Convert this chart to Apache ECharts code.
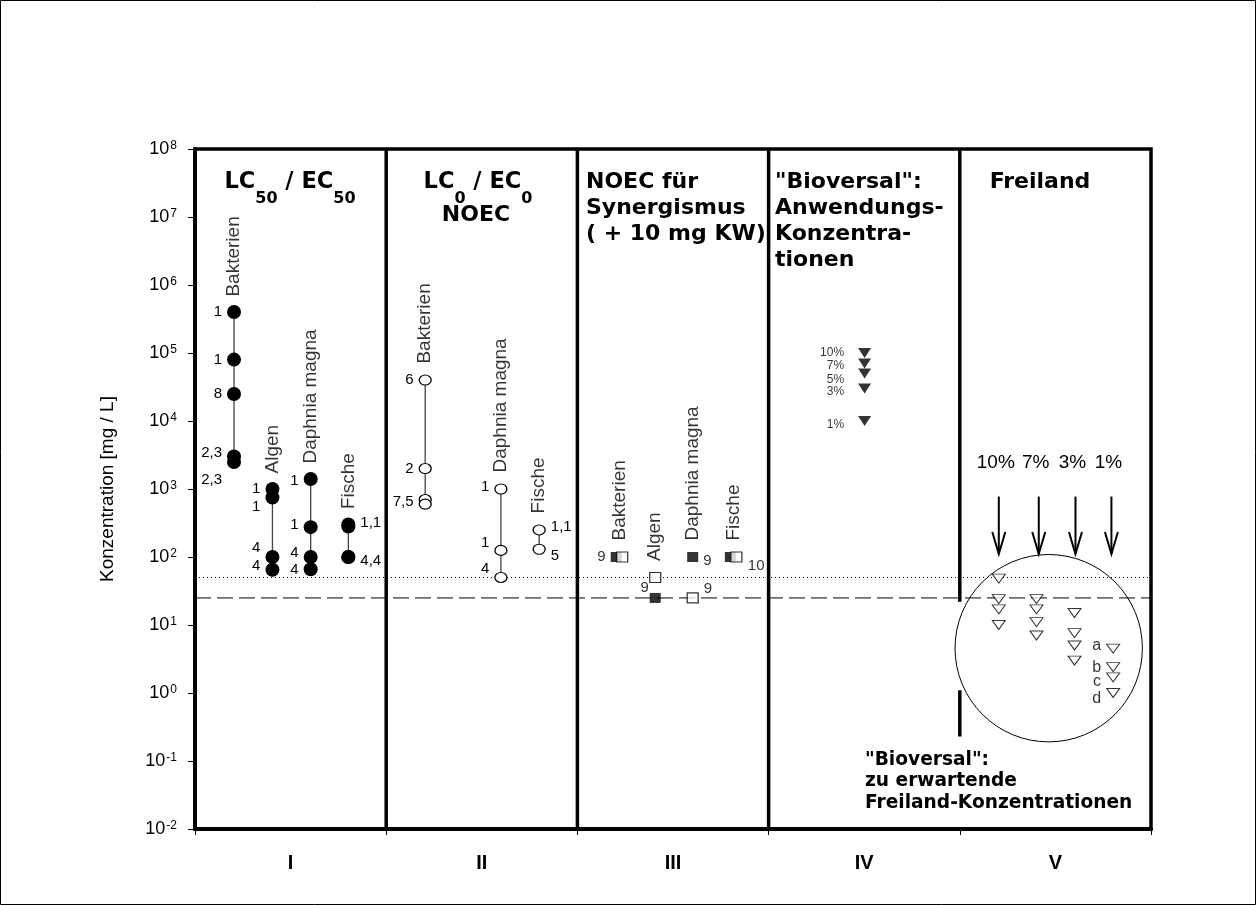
<!DOCTYPE html>
<html><head><meta charset="utf-8">
<script src="https://cdn.jsdelivr.net/npm/echarts@6/dist/echarts.min.js"></script>
<style>html,body{margin:0;padding:0;background:#fff}#c{width:1256px;height:905px}</style>
</head><body><div id="c"></div>
<script>
// ---------------- DATA ----------------
const columnLabels = ['I', 'II', 'III', 'IV', 'V'];
const yTickValues = [1e-2, 1e-1, 1, 10, 100, 1e3, 1e4, 1e5, 1e6, 1e7, 1e8];

// I: LC50 / EC50 (filled circles)
const lc50Species = ['Bakterien', 'Algen', 'Daphnia magna', 'Fische'];
const lc50X = [0.204, 0.405, 0.605, 0.802];
const lc50Values = [[4e5, 8e4, 2.5e4, 3000, 2500], [1000, 750, 100, 65], [1400, 275, 100, 66], [300, 280, 100, 100]];
const lc50Refs = [['1', '1', '8', '2,3', '2,3'], ['1', '1', '4', '4'], ['1', '1', '4', '4'], ['1,1', '', '4,4', '']];

// II: LC0 / EC0 / NOEC (open circles)
const noecSpecies = ['Bakterien', 'Daphnia magna', 'Fische'];
const noecX = [1.204, 1.60, 1.80];
const noecValues = [[40000, 2000, 700, 600], [1000, 125, 50], [250, 130]];
const noecRefs = [['6', '2', '', '7,5'], ['1', '1', '4'], ['1,1', '5']];

// III: NOEC für Synergismus (+10 mg KW) (squares)
const synSpecies = ['Bakterien', 'Algen', 'Daphnia magna', 'Fische'];
const synX = [2.203, 2.407, 2.603, 2.800];
const synFilled = [100, 25, 100, 100];
const synOpen = [100, 50, 25, 100];
const synFilledRefs = ['9', '9', '9', '10'];
const synOpenRefs = ['', '', '9', ''];

// IV: "Bioversal" Anwendungs-Konzentrationen (filled triangles)
const appLabels = ['10%', '7%', '5%', '3%', '1%'];
const appValues = [1e5, 7e4, 5e4, 3e4, 1e4];
const appX = 3.502;

// V: Freiland (open triangles)
const fieldGroups = ['10%', '7%', '3%', '1%'];
const fieldX = [4.204, 4.401, 4.600, 4.802];
const fieldValues = [[48, 24, 17, 10], [24, 17, 11, 7], [15, 7.6, 5, 3], [4.5, 2.4, 1.7, 1.0]];
const fieldLetters = ['a', 'b', 'c', 'd'];
const arrowX = [4.204, 4.413, 4.605, 4.793];
const arrowTop = 774;
const arrowTip = 111;
const circleCenter = [4.465, 4.56];
const circleRadiusX = 0.49;

// reference levels and column dividers
const dottedLevel = 50;
const dashedLevel = 25;
const dividerX = [1, 2, 3];
const dividerV = [4, 4];
const dividerVUpper = [1e8, 22];
const dividerVLower = [1.1, 0.23];

// ---------------- STYLE ----------------
const FONT = 'Liberation Sans, Arial, Helvetica, sans-serif';
const BOLD = 'DejaVu Sans, Verdana, sans-serif';
const lc50Side = ['left', 'left', 'left', 'right'];
const lc50Dy = [[0, 0, 0, -4, 18], [0, 9, -9, -4], [2, -2, -4, 1], [-2, 0, 4, 0]];
const noecSide = ['left', 'left', 'right'];
const noecDy = [[0, 0, 0, -2], [-2, -8, -9], [-3, 7]];
const synFilledSide = ['left', 'left', 'right', 'right'];
const synFilledOff = [[0, 0], [4, -10], [0, 4], [7, 9]];
const appDy = [0, 2, 6, 3, 4];
const fieldDy = [-3, 0, 4, 6];

const chart = echarts.init(document.getElementById('c'), null, { renderer: 'canvas' });

function lbl(text, side, off, size, dist) {
  return { show: !!text, formatter: text || ' ', position: side, distance: dist == null ? 5 : dist, offset: off,
           color: '#000', fontFamily: FONT, fontSize: size || 15 };
}

function groupSeries(x, values, refs, side, dys, filled) {
  return {
    type: 'line', xAxisIndex: 1, yAxisIndex: 0, silent: true, z: 5,
    symbol: 'circle',
    symbolSize: filled ? 14 : [12, 10],
    itemStyle: filled ? { color: '#000' } : { color: '#fff', borderColor: '#000', borderWidth: 1.2 },
    lineStyle: { color: '#444', width: 1.3 },
    data: values.map((v, i) => ({ value: [x, v], label: lbl(refs[i], side, [0, dys[i] || 0]) }))
  };
}

function nameSeries(xs, names, tops, dist) {
  return {
    type: 'scatter', xAxisIndex: 1, yAxisIndex: 0, silent: true, z: 6,
    symbolSize: 1, itemStyle: { color: 'transparent' },
    data: xs.map((x, i) => ({ value: [x, tops[i]], label: { formatter: names[i] } })),
    label: { show: true, position: 'top', distance: dist, rotate: 90, align: 'left', verticalAlign: 'middle',
             fontFamily: FONT, fontSize: 19, color: '#000' }
  };
}

function hLine(level, type) {
  return { type: 'line', xAxisIndex: 1, yAxisIndex: 0, silent: true, z: 2, symbol: 'none',
           data: [[0, level], [5, level]], lineStyle: { color: '#000', width: 1, type: type } };
}
function vLine(x, a, b) {
  return { type: 'line', xAxisIndex: 1, yAxisIndex: 0, silent: true, z: 3, symbol: 'none',
           data: [[x, a], [x, b]], lineStyle: { color: '#000', width: 3.5 } };
}

const series = [];
series.push(hLine(dottedLevel, [1, 3]));
series.push(hLine(dashedLevel, [16, 6]));
dividerX.forEach(x => series.push(vLine(x, 1e-2, 1e8)));
series.push(vLine(dividerV[0], dividerVUpper[0], dividerVUpper[1]));
series.push(vLine(dividerV[1], dividerVLower[0], dividerVLower[1]));

lc50X.forEach((x, g) => series.push(groupSeries(x, lc50Values[g], lc50Refs[g], lc50Side[g], lc50Dy[g], true)));
noecX.forEach((x, g) => series.push(groupSeries(x, noecValues[g], noecRefs[g], noecSide[g], noecDy[g], false)));

// III squares
series.push({
  type: 'scatter', xAxisIndex: 1, yAxisIndex: 0, silent: true, z: 5,
  symbol: 'rect', symbolSize: [11, 10], itemStyle: { color: '#000' },
  data: synX.map((x, i) => ({ value: [x, synFilled[i]], label: lbl(synFilledRefs[i], synFilledSide[i], synFilledOff[i]) }))
});
series.push({
  type: 'scatter', xAxisIndex: 1, yAxisIndex: 0, silent: true, z: 6,
  symbol: 'rect', symbolSize: [11, 10], itemStyle: { color: '#fff', borderColor: '#000', borderWidth: 1.2 },
  data: synX.map((x, i) => ({
    value: [x, synOpen[i]],
    symbolOffset: synOpen[i] === synFilled[i] ? [6, 0] : [0, 0],
    label: lbl(synOpenRefs[i], 'right', [0, -9])
  }))
});

// species names
series.push(nameSeries(lc50X, lc50Species, lc50Values.map(a => Math.max(...a)), 15));
series.push(nameSeries(noecX, noecSpecies, noecValues.map(a => Math.max(...a)), 16));
series.push(nameSeries(synX.map((x, i) => x + (synOpen[i] === synFilled[i] ? 0.016 : 0)), synSpecies,
  synX.map((x, i) => Math.max(synFilled[i], synOpen[i])), 16));

// IV filled triangles
series.push({
  type: 'scatter', xAxisIndex: 1, yAxisIndex: 0, silent: true, z: 5,
  symbol: 'triangle', symbolRotate: 180, symbolSize: [13, 10], itemStyle: { color: '#000' },
  data: appValues.map((v, i) => ({ value: [appX, v], label: lbl(appLabels[i], 'left', [0, appDy[i]], 12, 14) }))
});

// V open triangles
fieldX.forEach((x, g) => {
  series.push({
    type: 'scatter', xAxisIndex: 1, yAxisIndex: 0, silent: true, z: 5,
    symbol: 'triangle', symbolRotate: 180, symbolSize: [13, 9],
    itemStyle: { color: '#fff', borderColor: '#000', borderWidth: 1 },
    data: fieldValues[g].map((v, i) => ({
      value: [x, v],
      label: lbl(g === fieldX.length - 1 ? fieldLetters[i] : '', 'left', [0, fieldDy[i]], 16)
    }))
  });
});

// circle around field values
series.push({
  type: 'custom', xAxisIndex: 1, yAxisIndex: 0, silent: true, z: 4,
  data: [circleCenter],
  renderItem: (params, api) => {
    const c = api.coord([api.value(0), api.value(1)]);
    const e = api.coord([api.value(0) + circleRadiusX, api.value(1)]);
    return { type: 'circle', shape: { cx: c[0], cy: c[1], r: e[0] - c[0] },
             style: { fill: 'none', stroke: '#000', lineWidth: 1 } };
  }
});

// arrows with labels
series.push({
  type: 'custom', xAxisIndex: 1, yAxisIndex: 0, silent: true, z: 4,
  data: arrowX.map((x, i) => [x, arrowTop, arrowTip, i]),
  renderItem: (params, api) => {
    const x = api.value(0);
    const p0 = api.coord([x, api.value(1)]);
    const p1 = api.coord([x, api.value(2)]);
    const i = api.value(3);
    return { type: 'group', children: [
      { type: 'line', shape: { x1: p0[0], y1: p0[1], x2: p1[0], y2: p1[1] }, style: { stroke: '#000', lineWidth: 2 } },
      { type: 'polyline', shape: { points: [[p1[0] - 6.5, p1[1] - 22], [p1[0], p1[1]], [p1[0] + 6.5, p1[1] - 22]] },
        style: { stroke: '#000', lineWidth: 2, fill: null } },
      { type: 'text', x: p0[0] - 3, y: p0[1] - 34,
        style: { text: fieldGroups[i], textAlign: 'center', textVerticalAlign: 'middle', align: 'center', verticalAlign: 'middle',
                 font: '19px ' + FONT, fill: '#000' } }
    ] };
  }
});

const headM = { fontFamily: BOLD, fontWeight: 'bold', fontSize: 22.5, lineHeight: 26, color: '#000' };
const headS = { fontFamily: BOLD, fontWeight: 'bold', fontSize: 16, padding: [32, 0, 0, 0], color: '#000' };
const HEAD = 'bold 22px ' + BOLD;
function gtext(x, y, text, opts) {
  return { type: 'text', x: x, y: y, silent: true, style: Object.assign({ text: text, fill: '#000' }, opts) };
}
const TL = { textAlign: 'left', align: 'left', textVerticalAlign: 'top', verticalAlign: 'top' };
const TC = { textAlign: 'center', align: 'center', textVerticalAlign: 'top', verticalAlign: 'top' };
const MC = { textAlign: 'center', align: 'center', textVerticalAlign: 'middle', verticalAlign: 'middle' };

const option = {
  animation: false,
  backgroundColor: '#fff',
  grid: { left: 195, right: 105, top: 149, bottom: 76, show: true, borderColor: '#000', borderWidth: 3.5 },
  xAxis: [
    { type: 'category', data: columnLabels, boundaryGap: true, position: 'bottom',
      axisLine: { show: true, lineStyle: { color: '#000', width: 4 } },
      axisTick: { show: true, interval: 0, length: 6, lineStyle: { color: '#000', width: 1 } },
      axisLabel: { color: '#000', fontFamily: FONT, fontWeight: 'bold', fontSize: 20, margin: 24 },
      splitLine: { show: false } },
    { type: 'value', min: 0, max: 5, show: false }
  ],
  yAxis: [{
    type: 'log', logBase: 10, min: 1e-2, max: 1e8,
    name: 'Konzentration [mg / L]', nameLocation: 'middle', nameGap: 78,
    nameTextStyle: { color: '#000', fontFamily: FONT, fontSize: 19 },
    axisLine: { show: true, lineStyle: { color: '#000', width: 4 } },
    axisTick: { show: true, length: 7, lineStyle: { color: '#000', width: 1 }, customValues: yTickValues },
    axisLabel: {
      customValues: yTickValues, margin: 18,
      formatter: v => '{b|10}{s|' + Math.round(Math.log10(v)) + '}',
      rich: { b: { fontFamily: FONT, fontSize: 18, lineHeight: 20, color: '#000' },
              s: { fontFamily: FONT, fontSize: 12, verticalAlign: 'top', color: '#000', padding: [1, 0, 0, 1] } }
    },
    splitLine: { show: false }
  }],
  series: series,
  graphic: [
    { type: 'rect', silent: true, shape: { x: 0.5, y: 0.5, width: 1255, height: 904 }, style: { fill: 'none', stroke: '#000', lineWidth: 1 } },
    gtext(290, 158.5, '{m|LC}{s|50}{m| / EC}{s|50}', Object.assign({ rich: { m: headM, s: headS } }, TC)),
    gtext(478, 158.5, '{m|LC}{s|0}{m| / EC}{s|0}', Object.assign({ rich: { m: headM, s: headS } }, TC)),
    gtext(476, 215, 'NOEC', Object.assign({ font: HEAD }, MC)),
    gtext(586, 169.5, 'NOEC für\nSynergismus\n( + 10 mg KW)', Object.assign({ font: HEAD, lineHeight: 26 }, TL)),
    gtext(775, 169.5, '"Bioversal":\nAnwendungs-\nKonzentra-\ntionen', Object.assign({ font: HEAD, lineHeight: 26 }, TL)),
    gtext(1040, 182.5, 'Freiland', Object.assign({ font: HEAD }, MC)),
    gtext(865, 749, '"Bioversal":\nzu erwartende\nFreiland-Konzentrationen', Object.assign({ font: 'bold 18.6px ' + BOLD, lineHeight: 21.7 }, TL))
  ]
};
chart.setOption(option);
</script>
</body></html>
